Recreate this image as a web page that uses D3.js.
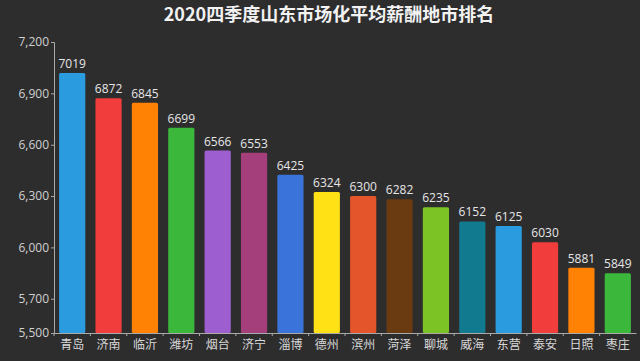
<!DOCTYPE html>
<html>
<head>
<meta charset="utf-8">
<script src="https://d3js.org/d3.v7.min.js"></script>
<style>
  body { margin: 0; background: #2e2d2e; }
  svg { display: block; }
</style>
</head>
<body>
<script>
var cities = ["青岛", "济南", "临沂", "潍坊", "烟台", "济宁", "淄博", "德州", "滨州", "菏泽", "聊城", "威海", "东营", "泰安", "日照", "枣庄"];
var salaries = [7019, 6872, 6845, 6699, 6566, 6553, 6425, 6324, 6300, 6282, 6235, 6152, 6125, 6030, 5881, 5849];
var colors = ["#2b9be0", "#f23d3d", "#ff8205", "#3bb83c", "#9d5fd0", "#a43f7b", "#3a73da", "#ffe115", "#e5552b", "#6a3a10", "#7cc425", "#117a8f", "#2b9be0", "#f23d3d", "#ff8205", "#3bb83c"];
var yTicks = [5500, 5700, 6000, 6300, 6600, 6900, 7200];

var width = 640, height = 361;
var plotLeft = 54, plotRight = 636, plotTop = 42, plotBottom = 333;

var svg = d3.select("body").append("svg")
  .attr("width", width)
  .attr("height", height);

svg.append("rect").attr("width", width).attr("height", height).attr("fill", "#2e2d2e");

svg.append("text")
  .attr("x", 329).attr("y", 21)
  .attr("text-anchor", "middle")
  .attr("fill", "#f2f2f2")
  .attr("font-family", "'Noto Sans CJK SC', sans-serif")
  .attr("font-weight", "bold")
  .attr("font-size", 18)
  .text("2020四季度山东市场化平均薪酬地市排名");

var x = d3.scaleBand().domain(cities).range([plotLeft, plotRight]).paddingInner(0.28).paddingOuter(0.14);
var y = d3.scaleLinear().domain([5500, 7200]).range([plotBottom, plotTop]);

var data = cities.map(function(c, i) { return { city: c, value: salaries[i], color: colors[i] }; });

svg.selectAll(".bar")
  .data(data)
  .enter().append("rect")
  .attr("class", "bar")
  .attr("x", function(d) { return x(d.city); })
  .attr("y", function(d) { return y(d.value); })
  .attr("width", x.bandwidth())
  .attr("height", function(d) { return plotBottom - y(d.value); })
  .attr("rx", 1.5)
  .attr("fill", function(d) { return d.color; });

svg.selectAll(".val")
  .data(data)
  .enter().append("text")
  .attr("class", "val")
  .attr("x", function(d) { return x(d.city) + x.bandwidth() / 2; })
  .attr("y", function(d) { return y(d.value) - 5; })
  .attr("text-anchor", "middle")
  .attr("fill", "#e6e6e6")
  .attr("font-family", "'Open Sans', sans-serif")
  .attr("font-size", 12)
  .text(function(d) { return d.value; });

// y axis
var yAxis = svg.append("g")
  .attr("transform", "translate(" + plotLeft + ",0)")
  .call(d3.axisLeft(y).tickValues(yTicks).tickSize(3).tickPadding(2).tickFormat(d3.format(",")));
yAxis.select(".domain").attr("stroke", "#aaa");
yAxis.selectAll(".tick line").attr("stroke", "#aaa");
yAxis.selectAll("text")
  .attr("fill", "#d0d0d0")
  .attr("font-family", "'Open Sans', sans-serif")
  .attr("font-size", 12);

// x axis
var xAxis = svg.append("g")
  .attr("transform", "translate(0," + plotBottom + ")")
  .call(d3.axisBottom(x).tickSize(0).tickPadding(7));
xAxis.select(".domain").attr("stroke", "#aaa");
xAxis.selectAll("text")
  .attr("fill", "#d8d8d8")
  .attr("font-family", "'Noto Sans CJK SC', sans-serif")
  .attr("font-size", 12);

// small separators between categories
svg.append("g").selectAll("line")
  .data(cities)
  .enter().append("line")
  .attr("x1", function(d) { return x(d) - x.step() * x.paddingInner() / 2; })
  .attr("x2", function(d) { return x(d) - x.step() * x.paddingInner() / 2; })
  .attr("y1", plotBottom).attr("y2", plotBottom + 3)
  .attr("stroke", "#aaa");
</script>
</body>
</html>
